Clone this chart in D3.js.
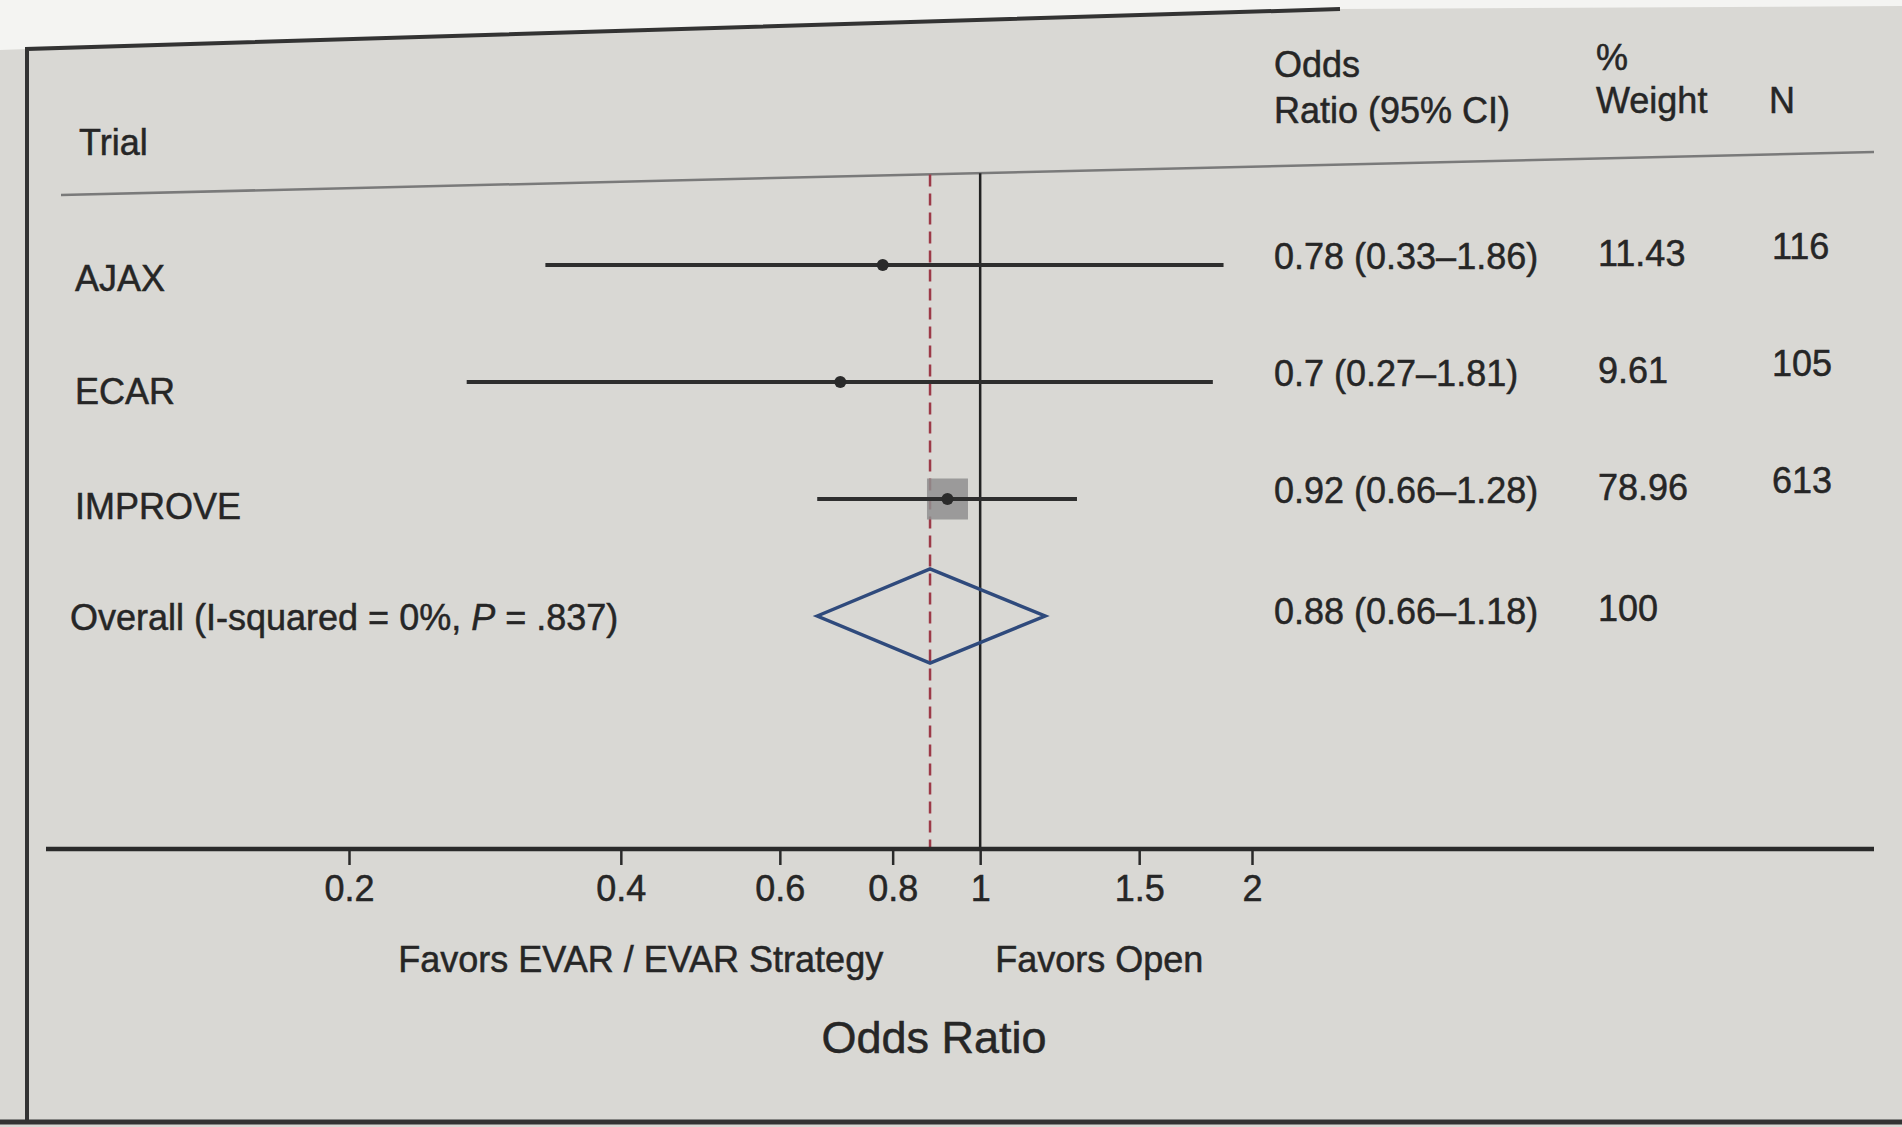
<!DOCTYPE html>
<html>
<head>
<meta charset="utf-8">
<script src="https://cdn.jsdelivr.net/npm/d3@7"></script>
<style>
  body { margin: 0; background: #f4f4f2; }
  svg { display: block; }
  text { font-family: "Liberation Sans", Arial, sans-serif; fill: #262626; stroke: #262626; stroke-width: 0.5px; }
</style>
</head>
<body>
<svg id="chart" width="1902" height="1127"></svg>
<script>
// study rows
const trials = ["AJAX", "ECAR", "IMPROVE"];
const oddsRatio = [0.78, 0.7, 0.92];
const ciLow = [0.33, 0.27, 0.66];
const ciHigh = [1.86, 1.81, 1.28];
const weights = [11.43, 9.61, 78.96];
const nPatients = [116, 105, 613];
const orText = ["0.78 (0.33\u20131.86)", "0.7 (0.27\u20131.81)", "0.92 (0.66\u20131.28)"];

// pooled estimate
const overallOR = 0.88;
const overallLow = 0.66;
const overallHigh = 1.18;
const overallText = "0.88 (0.66\u20131.18)";
const overallWeight = "100";

const tickValues = [0.2, 0.4, 0.6, 0.8, 1, 1.5, 2];

const svg = d3.select("#chart");
const fs = 36;

// paper + frame (photo is a bit tilted at the top)
svg.append("polygon")
  .attr("points", "0,50 27,49 1340,9 1902,6 1902,1127 0,1127")
  .attr("fill", "#d9d8d4");
svg.append("path")
  .attr("d", "M27,1122 L27,49 L1340,9")
  .attr("fill", "none").attr("stroke", "#333").attr("stroke-width", 4);
svg.append("line")
  .attr("x1", 0).attr("x2", 1902).attr("y1", 1122).attr("y2", 1122)
  .attr("stroke", "#333").attr("stroke-width", 5);

const x = d3.scaleLog().domain([0.2, 2]).range([349, 1252]);
const y = d3.scaleLinear().domain([0, 3]).range([265, 616]);
const box = d3.scaleLinear().domain([0, d3.max(weights)]).range([0, 41]);

const axisY = 849;
const sepY = xx => 195 + (152 - 195) * (xx - 61) / (1874 - 61);

// header
svg.append("text").attr("x", 79).attr("y", 155).style("font-size", fs + "px").text("Trial");
svg.append("text").attr("x", 1274).attr("y", 77).style("font-size", fs + "px").text("Odds");
svg.append("text").attr("x", 1274).attr("y", 123).style("font-size", fs + "px").text("Ratio (95% CI)");
svg.append("text").attr("x", 1596).attr("y", 70).style("font-size", fs + "px").text("%");
svg.append("text").attr("x", 1596).attr("y", 113).style("font-size", fs + "px").text("Weight");
svg.append("text").attr("x", 1769).attr("y", 113).style("font-size", fs + "px").text("N");

svg.append("line")
  .attr("x1", 61).attr("y1", sepY(61)).attr("x2", 1874).attr("y2", sepY(1874))
  .attr("stroke", "#7a7a7a").attr("stroke-width", 2.5);

// reference lines
svg.append("line")
  .attr("x1", x(1)).attr("x2", x(1))
  .attr("y1", sepY(x(1))).attr("y2", axisY)
  .attr("stroke", "#222").attr("stroke-width", 2.5);
svg.append("line")
  .attr("x1", x(overallOR)).attr("x2", x(overallOR))
  .attr("y1", sepY(x(overallOR))).attr("y2", axisY)
  .attr("stroke", "#9c3a48").attr("stroke-width", 2.5)
  .attr("stroke-dasharray", "12,7");

// study rows
const rows = svg.selectAll(".row")
  .data(trials)
  .enter()
  .append("g")
  .attr("class", "row");

rows.append("rect")
  .attr("x", (d, i) => x(oddsRatio[i]) - box(weights[i]) / 2)
  .attr("y", (d, i) => y(i) - box(weights[i]) / 2)
  .attr("width", (d, i) => box(weights[i]))
  .attr("height", (d, i) => box(weights[i]))
  .attr("fill", "#8f8f8f").attr("opacity", 0.85);

rows.append("line")
  .attr("x1", (d, i) => x(ciLow[i]))
  .attr("x2", (d, i) => x(ciHigh[i]))
  .attr("y1", (d, i) => y(i))
  .attr("y2", (d, i) => y(i))
  .attr("stroke", "#2e2e2e").attr("stroke-width", 4);

rows.append("circle")
  .attr("cx", (d, i) => x(oddsRatio[i]))
  .attr("cy", (d, i) => y(i))
  .attr("r", 6)
  .attr("fill", "#2a2a2a");

rows.append("text")
  .attr("x", 75).attr("y", (d, i) => y(i) + [26, 22, 20, 0][i])
  .style("font-size", fs + "px")
  .text(d => d);
rows.append("text")
  .attr("x", 1274).attr("y", (d, i) => y(i) + 4)
  .style("font-size", fs + "px")
  .text((d, i) => orText[i]);
rows.append("text")
  .attr("x", 1598).attr("y", (d, i) => y(i) + 1)
  .style("font-size", fs + "px")
  .text((d, i) => weights[i].toFixed(2));
rows.append("text")
  .attr("x", 1772).attr("y", (d, i) => y(i) - 6)
  .style("font-size", fs + "px")
  .text((d, i) => nPatients[i]);

// overall diamond
const oy = y(3);
svg.append("path")
  .attr("d", `M${x(overallLow)},${oy} L${x(overallOR)},${oy - 47} L${x(overallHigh)},${oy} L${x(overallOR)},${oy + 47} Z`)
  .attr("fill", "none").attr("stroke", "#2f4a7c").attr("stroke-width", 3.5);

const ol = svg.append("text").attr("x", 70).attr("y", oy + 14).style("font-size", fs + "px");
ol.append("tspan").text("Overall (I-squared = 0%, ");
ol.append("tspan").style("font-style", "italic").text("P");
ol.append("tspan").text(" = .837)");
svg.append("text").attr("x", 1274).attr("y", oy + 8).style("font-size", fs + "px").text(overallText);
svg.append("text").attr("x", 1598).attr("y", oy + 5).style("font-size", fs + "px").text(overallWeight);

// x axis
svg.append("line")
  .attr("x1", 46).attr("x2", 1874).attr("y1", axisY).attr("y2", axisY)
  .attr("stroke", "#2a2a2a").attr("stroke-width", 4.5);

const axis = svg.append("g")
  .attr("transform", `translate(0,${axisY})`)
  .call(d3.axisBottom(x).tickValues(tickValues).tickFormat(d3.format("")).tickSize(16).tickPadding(10));
axis.select(".domain").remove();
axis.selectAll(".tick line").attr("stroke", "#2a2a2a").attr("stroke-width", 2.5);
axis.selectAll(".tick text")
  .style("font-size", fs + "px")
  .style("font-family", "'Liberation Sans', Arial, sans-serif")
  .attr("fill", "#262626");

svg.append("text")
  .attr("x", x(1) - 97).attr("y", 972)
  .attr("text-anchor", "end").style("font-size", fs + "px")
  .text("Favors EVAR / EVAR Strategy");
svg.append("text")
  .attr("x", x(1) + 15).attr("y", 972)
  .style("font-size", fs + "px")
  .text("Favors Open");
svg.append("text")
  .attr("x", 934).attr("y", 1053)
  .attr("text-anchor", "middle").style("font-size", "45px")
  .text("Odds Ratio");
</script>
</body>
</html>
